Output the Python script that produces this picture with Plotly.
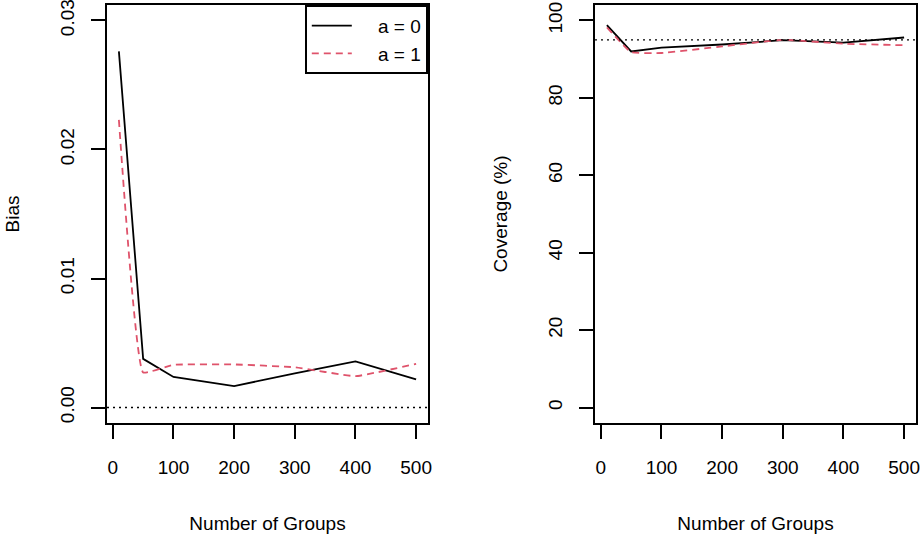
import plotly.graph_objects as go
from plotly.subplots import make_subplots

groups = [10, 50, 100, 200, 300, 400, 500]
bias_a0 = [0.0276, 0.00377, 0.00237, 0.00166, 0.00265, 0.00357, 0.00218]
bias_a1 = [0.0223, 0.00272, 0.00331, 0.00334, 0.00312, 0.00243, 0.00338]
cov_a0 = [98.8, 92.0, 93.0, 93.8, 94.9, 94.3, 95.6]
cov_a1 = [98.2, 91.8, 91.6, 93.3, 95.0, 94.0, 93.6]
x_ticks = [0, 100, 200, 300, 400, 500]
bias_ticks = [0.00, 0.01, 0.02, 0.03]
bias_tick_text = ["0.00", "0.01", "0.02", "0.03"]
cov_ticks = [0, 20, 40, 60, 80, 100]
legend_names = ["a = 0", "a = 1"]
bias_ref = 0.0
cov_ref = 95

RED = "#DF536B"
FONT = "Liberation Sans, Arial, sans-serif"
FS = 19
PAD = "\u00a0" * 4

fig = make_subplots(rows=1, cols=2)

fig.add_trace(go.Scatter(x=groups, y=bias_a0, mode="lines", name=PAD + legend_names[0],
                         line=dict(color="black", width=1.8)), row=1, col=1)
fig.add_trace(go.Scatter(x=groups, y=bias_a1, mode="lines", name=PAD + legend_names[1],
                         line=dict(color=RED, width=1.8, dash="7px,5px", shape="spline", smoothing=0.3)),
              row=1, col=1)
fig.add_trace(go.Scatter(x=groups, y=cov_a0, mode="lines", showlegend=False,
                         line=dict(color="black", width=1.8)), row=1, col=2)
fig.add_trace(go.Scatter(x=groups, y=cov_a1, mode="lines", showlegend=False,
                         line=dict(color=RED, width=1.8, dash="7px,5px", shape="spline", smoothing=0.3)),
              row=1, col=2)

fig.add_shape(type="line", xref="x domain", yref="y", x0=0, x1=1, y0=bias_ref, y1=bias_ref,
              line=dict(color="black", width=1.3, dash="2px,4px"))
fig.add_shape(type="line", xref="x2 domain", yref="y2", x0=0, x1=1, y0=cov_ref, y1=cov_ref,
              line=dict(color="black", width=1.3, dash="2px,4px"))

W, H = 923, 537
def dx(a, b):
    return [a / W, b / W]
ydom = [1 - 423 / H, 1 - 5 / H]

axis_common = dict(showline=True, mirror=True, linecolor="black", linewidth=1.8,
                   ticks="outside", ticklen=14, tickwidth=1.8, tickcolor="black",
                   showgrid=False, zeroline=False, automargin=False,
                   ticklabeloverflow="allow",
                   tickfont=dict(family=FONT, size=FS, color="black"))

fig.update_xaxes(**axis_common, range=[-9.6, 519.6], tickvals=x_ticks,
                 ticklabelstandoff=12,
                 title=dict(text="Number of Groups", font=dict(family=FONT, size=FS, color="black"), standoff=40))
fig.update_xaxes(domain=dx(107, 428), row=1, col=1)
fig.update_xaxes(domain=dx(595, 916), row=1, col=2)

fig.update_yaxes(**axis_common, tickangle=-90, ticklabelstandoff=10)
fig.update_yaxes(domain=ydom, range=[-0.0012, 0.0312], tickvals=bias_ticks, ticktext=bias_tick_text,
                 title=dict(text="Bias", font=dict(family=FONT, size=FS, color="black"), standoff=32),
                 row=1, col=1)
fig.update_yaxes(domain=ydom, range=[-4, 104], tickvals=cov_ticks,
                 title=dict(text="Coverage (%)", font=dict(family=FONT, size=FS, color="black"), standoff=32),
                 row=1, col=2)

fig.update_layout(
    width=W, height=H,
    margin=dict(l=0, r=0, t=0, b=0),
    paper_bgcolor="white", plot_bgcolor="white",
    font=dict(family=FONT, size=FS, color="black"),
    legend=dict(x=428 / W, xanchor="right", y=1 - 5 / H, yanchor="top",
                bordercolor="black", borderwidth=1.8, bgcolor="white",
                font=dict(family=FONT, size=FS, color="black"),
                itemwidth=40, tracegroupgap=0),
)

fig.write_html("out.html", config={"displayModeBar": False},
               post_script="document.body.style.margin='0';document.body.style.padding='0';")
